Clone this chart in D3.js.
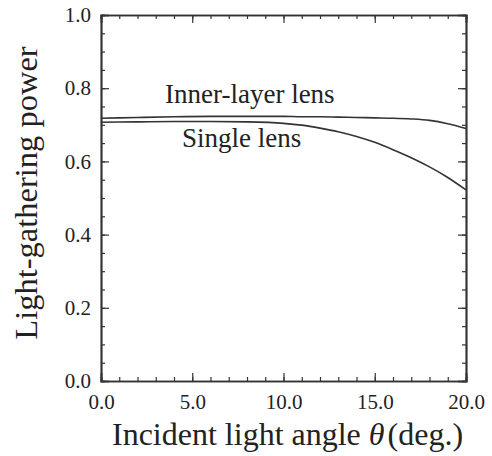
<!DOCTYPE html>
<html>
<head>
<meta charset="utf-8">
<script src="https://cdn.jsdelivr.net/npm/d3@7"></script>
<style>
  html, body { margin: 0; padding: 0; background: #fff; }
  svg { display: block; font-family: "Liberation Serif", "DejaVu Serif", serif; }
  .axis path, .axis line { stroke: #333; }
</style>
</head>
<body>
<svg id="chart"></svg>
<script>
// incident angle (deg.) and light-gathering power
const theta = [0, 2, 4, 6, 8, 10, 11, 12, 13, 14, 15, 16, 17, 18, 19, 20];
const innerLayer = [0.718, 0.720, 0.722, 0.723, 0.723, 0.723, 0.722, 0.722, 0.721, 0.720, 0.719, 0.718, 0.716, 0.712, 0.703, 0.690];
const singleLens = [0.707, 0.708, 0.709, 0.709, 0.708, 0.704, 0.699, 0.691, 0.681, 0.668, 0.652, 0.632, 0.610, 0.585, 0.556, 0.522];

const xMajor = [0, 5, 10, 15, 20];
const yMajor = [0, 0.2, 0.4, 0.6, 0.8, 1.0];

const width = 492, height = 456;
const margin = { top: 15, right: 26, bottom: 75, left: 101 };
const w = width - margin.left - margin.right;
const h = height - margin.top - margin.bottom;
const serif = '"Liberation Serif", "DejaVu Serif", serif';

const svg = d3.select("#chart")
    .attr("width", width)
    .attr("height", height);

const g = svg.append("g")
    .attr("transform", `translate(${margin.left},${margin.top})`);

const x = d3.scaleLinear().domain([0, 20]).range([0, w]);
const y = d3.scaleLinear().domain([0, 1]).range([h, 0]);

const xMinor = d3.range(0, 20.01, 1);
const yMinor = d3.range(0, 1.001, 0.05);

// minor ticks on all four sides, pointing inward
g.append("g").attr("class", "axis")
    .attr("transform", `translate(0,${h})`)
    .call(d3.axisBottom(x).tickValues(xMinor).tickSize(-4).tickFormat(""));
g.append("g").attr("class", "axis")
    .call(d3.axisTop(x).tickValues(xMinor).tickSize(-4).tickFormat(""));
g.append("g").attr("class", "axis")
    .call(d3.axisLeft(y).tickValues(yMinor).tickSize(-4).tickFormat(""));
g.append("g").attr("class", "axis")
    .attr("transform", `translate(${w},0)`)
    .call(d3.axisRight(y).tickValues(yMinor).tickSize(-4).tickFormat(""));

// major ticks with labels
const xAxis = g.append("g").attr("class", "axis")
    .attr("transform", `translate(0,${h})`)
    .call(d3.axisBottom(x).tickValues(xMajor).tickSize(-8).tickPadding(13).tickFormat(d3.format(".1f")));

g.append("g").attr("class", "axis")
    .call(d3.axisTop(x).tickValues(xMajor).tickSize(-8).tickFormat(""));

const yAxis = g.append("g").attr("class", "axis")
    .call(d3.axisLeft(y).tickValues(yMajor).tickSize(-8).tickPadding(10).tickFormat(d3.format(".1f")));

g.append("g").attr("class", "axis")
    .attr("transform", `translate(${w},0)`)
    .call(d3.axisRight(y).tickValues(yMajor).tickSize(-8).tickFormat(""));

g.selectAll(".axis").attr("font-family", serif).attr("font-size", 21);
g.selectAll(".axis text").attr("fill", "#222");
g.selectAll(".axis path").attr("stroke-width", 1.7);
g.selectAll(".axis line").attr("stroke-width", 1.2);

// curves
const line = d3.line()
    .x((d, i) => x(theta[i]))
    .y(d => y(d))
    .curve(d3.curveMonotoneX);

g.append("path")
    .datum(innerLayer)
    .attr("fill", "none")
    .attr("stroke", "#333")
    .attr("stroke-width", 1.6)
    .attr("d", line);

g.append("path")
    .datum(singleLens)
    .attr("fill", "none")
    .attr("stroke", "#333")
    .attr("stroke-width", 1.6)
    .attr("d", line);

// curve labels
g.append("text")
    .attr("x", 165 - margin.left)
    .attr("y", 103 - margin.top)
    .attr("fill", "#222")
    .style("font-size", "27px")
    .text("Inner-layer lens");

g.append("text")
    .attr("x", 182 - margin.left)
    .attr("y", 147 - margin.top)
    .attr("fill", "#222")
    .style("font-size", "27px")
    .text("Single lens");

// axis titles
const xt = svg.append("text")
    .attr("x", 112)
    .attr("y", 445)
    .attr("fill", "#222")
    .style("font-size", "32px");
xt.append("tspan").text("Incident light angle ");
xt.append("tspan").style("font-style", "italic").text("θ");
xt.append("tspan").attr("dx", 3).text("(deg.)");

svg.append("text")
    .attr("transform", `translate(37,${193}) rotate(-90)`)
    .attr("text-anchor", "middle")
    .attr("fill", "#222")
    .style("font-size", "32.5px")
    .text("Light-gathering power");
</script>
</body>
</html>
